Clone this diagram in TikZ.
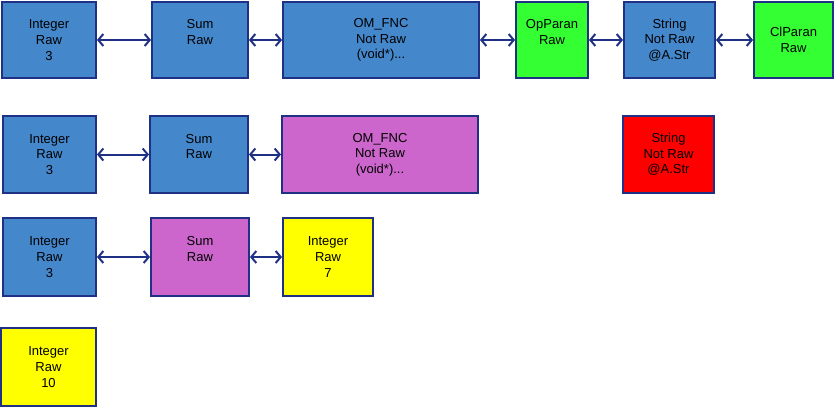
\documentclass[tikz,border=0pt]{standalone}
\usepackage{fontspec}
\setmainfont{Liberation Sans}
\usetikzlibrary{arrows.meta}
\definecolor{edge}{HTML}{1F3185}
\definecolor{cblue}{HTML}{4487CB}
\definecolor{cgreen}{HTML}{33FF33}
\definecolor{cmag}{HTML}{CC66CC}
\definecolor{cred}{HTML}{FF0000}
\definecolor{cyel}{HTML}{FFFF00}
\tikzset{
  box/.style={draw=edge, line width=2bp, rectangle, inner sep=0pt,
    align=center, font=\fontsize{13bp}{15.6bp}\selectfont, text=black,
    execute at begin node={\rule{0pt}{18.5bp}}},
  link/.style={draw=edge, line width=2bp, {Straight Barb[length=5bp,width=12bp,line width=2bp]}-{Straight Barb[length=5bp,width=12bp,line width=2bp]}}
}
\begin{document}
\begin{tikzpicture}[x=1bp,y=-1bp]
\useasboundingbox (0,0) rectangle (835,408);
% row 1
\node[box, fill=cblue, minimum width=94bp, minimum height=76bp] (i1) at (49,40) {Integer\\Raw\\3};
\node[box, fill=cblue, minimum width=96bp, minimum height=76bp] (s1) at (200,40) {Sum\\Raw\\\phantom{3}};
\node[box, fill=cblue, minimum width=196bp, minimum height=76bp] (o1) at (381,40) {OM\_FNC\\Not Raw\\(void*)...};
\node[box, fill=cgreen, minimum width=72bp, minimum height=76bp] (p1) at (552,40) {OpParan\\Raw\\\phantom{3}};
\node[box, fill=cblue, minimum width=91bp, minimum height=76bp] (t1) at (669.5,40) {String\\Not Raw\\@A.Str};
\node[box, fill=cgreen, minimum width=79bp, minimum height=76bp] (c1) at (793.5,40) {ClParan\\Raw};
\draw[link] (i1) -- (s1);
\draw[link] (s1) -- (o1);
\draw[link] (o1) -- (p1);
\draw[link] (p1) -- (t1);
\draw[link] (t1) -- (c1);
% row 2
\node[box, fill=cblue, minimum width=93bp, minimum height=77bp] (i2) at (49.5,154.5) {Integer\\Raw\\3};
\node[box, fill=cblue, minimum width=98bp, minimum height=77bp] (s2) at (199,154.5) {Sum\\Raw\\\phantom{3}};
\node[box, fill=cmag, minimum width=196bp, minimum height=77bp] (o2) at (380,154.5) {OM\_FNC\\Not Raw\\(void*)...};
\node[box, fill=cred, minimum width=91bp, minimum height=77bp] (t2) at (668.5,154.5) {String\\Not Raw\\@A.Str};
\draw[link] (i2) -- (s2);
\draw[link] (s2) -- (o2);
% row 3
\node[box, fill=cblue, minimum width=93bp, minimum height=78bp] (i3) at (49.5,257) {Integer\\Raw\\3};
\node[box, fill=cmag, minimum width=98bp, minimum height=78bp] (s3) at (200,257) {Sum\\Raw\\\phantom{3}};
\node[box, fill=cyel, minimum width=90bp, minimum height=78bp] (y3) at (328,257) {Integer\\Raw\\7};
\draw[link] (i3) -- (s3);
\draw[link] (s3) -- (y3);
% row 4
\node[box, fill=cyel, minimum width=95bp, minimum height=78bp] (y4) at (48.5,367) {Integer\\Raw\\10};
\end{tikzpicture}
\end{document}
